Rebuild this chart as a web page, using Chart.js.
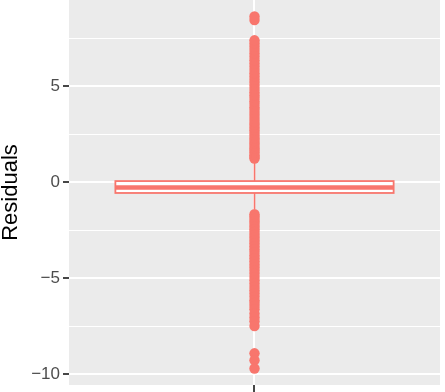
<!DOCTYPE html>
<html>
<head>
<meta charset="utf-8">
<script src="https://cdn.jsdelivr.net/npm/chart.js@4/dist/chart.umd.min.js"></script>
<style>
html,body{margin:0;padding:0;background:#fff;}
canvas{display:block;}
</style>
</head>
<body>
<canvas id="c" width="445" height="392"></canvas>
<script>
// ---- data ----
const category = ["1"];
// [lower whisker, Q1, median, Q3, upper whisker]
const boxStats = [-1.41, -0.57, -0.29, 0.05, 0.99];
const upperOutliers = [1.22, 1.31, 1.40, 1.52, 1.63, 1.75, 1.88, 2.01, 2.14, 2.27, 2.41, 2.55, 2.70, 2.84, 2.99, 3.13, 3.28, 3.44, 3.59, 3.75, 3.90, 4.06, 4.21, 4.37, 4.52, 4.68, 4.85, 5.01, 5.17, 5.33, 5.50, 5.66, 5.83, 6.00, 6.17, 6.34, 6.52, 6.70, 6.88, 7.05, 7.22, 7.38, 8.44, 8.62];
const lowerOutliers = [-1.68, -1.79, -1.92, -2.05, -2.18, -2.32, -2.46, -2.60, -2.75, -2.89, -3.04, -3.19, -3.34, -3.50, -3.65, -3.81, -3.97, -4.13, -4.29, -4.45, -4.62, -4.78, -4.95, -5.12, -5.29, -5.46, -5.63, -5.80, -5.98, -6.16, -6.30, -6.45, -6.62, -6.85, -7.05, -7.25, -7.50, -8.92, -9.28, -9.71];
const yTicks = [-10, -7.5, -5, -2.5, 0, 2.5, 5, 7.5];
const yMajor = [-10, -5, 0, 5];
const yTitle = "Residuals";

const RED = "#F8766D";
const allOutliers = upperOutliers.concat(lowerOutliers);

const panelBg = {
  id: "panelBg",
  beforeDraw(chart) {
    const {ctx, chartArea: a} = chart;
    ctx.save();
    ctx.fillStyle = "#EBEBEB";
    ctx.fillRect(a.left, a.top, a.right - a.left, a.bottom - a.top);
    ctx.restore();
  }
};

const boxPlugin = {
  id: "boxPlugin",
  beforeDatasetsDraw(chart) {
    const {ctx, scales: {x, y}} = chart;
    const [lw, q1, med, q3, uw] = boxStats;
    const cx = x.getPixelForValue(1);
    const x0 = x.getPixelForValue(1 - 0.45);
    const x1 = x.getPixelForValue(1 + 0.45);
    ctx.save();
    ctx.strokeStyle = RED;
    ctx.lineCap = "butt";
    // whiskers
    ctx.lineWidth = 1.6;
    ctx.beginPath();
    ctx.moveTo(cx, y.getPixelForValue(uw));
    ctx.lineTo(cx, y.getPixelForValue(q3));
    ctx.moveTo(cx, y.getPixelForValue(q1));
    ctx.lineTo(cx, y.getPixelForValue(lw));
    ctx.stroke();
    // box
    const yt = y.getPixelForValue(q3), yb = y.getPixelForValue(q1);
    ctx.fillStyle = "#FFFFFF";
    ctx.fillRect(x0, yt, x1 - x0, yb - yt);
    ctx.lineWidth = 1.8;
    ctx.strokeRect(x0, yt, x1 - x0, yb - yt);
    // median
    ctx.lineWidth = 4.5;
    ctx.beginPath();
    ctx.moveTo(x0, y.getPixelForValue(med));
    ctx.lineTo(x1, y.getPixelForValue(med));
    ctx.stroke();
    ctx.restore();
  }
};

const isMajor = v => yMajor.includes(v);

new Chart(document.getElementById("c"), {
  type: "scatter",
  data: {
    labels: category,
    datasets: [{
      data: allOutliers.map(v => ({x: 1, y: v})),
      backgroundColor: RED,
      borderColor: RED,
      borderWidth: 0,
      pointRadius: 5.2,
      pointHoverRadius: 5.2
    }]
  },
  options: {
    responsive: false,
    animation: false,
    devicePixelRatio: 1,
    layout: {autoPadding: false, padding: {top: 0, right: 5, bottom: 0, left: 0}},
    plugins: {legend: {display: false}, tooltip: {enabled: false}},
    scales: {
      x: {
        type: "linear",
        min: 0.4, max: 1.6,
        afterBuildTicks: s => { s.ticks = [{value: 1}]; },
        afterFit: s => { s.paddingLeft = 0; s.paddingRight = 0; },
        ticks: {display: false},
        border: {display: false},
        grid: {color: "#FFFFFF", lineWidth: 2, tickColor: "#333333", tickLength: 7, tickWidth: 1.8}
      },
      y: {
        type: "linear",
        min: -10.57, max: 9.48,
        afterBuildTicks: s => { s.ticks = yTicks.map(v => ({value: v})); },
        afterFit: s => { s.width = 69; s.paddingTop = 0; s.paddingBottom = 0; },
        border: {display: false},
        grid: {
          color: "#FFFFFF",
          lineWidth: c => (c.tick && isMajor(c.tick.value)) ? 2 : 1,
          tickColor: c => (c.tick && isMajor(c.tick.value)) ? "#333333" : "rgba(0,0,0,0)",
          tickWidth: 1.8,
          tickLength: 6
        },
        ticks: {
          padding: 3,
          color: "#4D4D4D",
          font: {family: "Liberation Sans", size: 17},
          callback: v => isMajor(v) ? (v < 0 ? "\u2212" + Math.abs(v) : String(v)) : ""
        },
        title: {
          display: true,
          text: yTitle,
          color: "#000000",
          padding: 0,
          font: {family: "Liberation Sans", size: 22, lineHeight: 1}
        }
      }
    }
  },
  plugins: [panelBg, boxPlugin]
});
</script>
</body>
</html>
